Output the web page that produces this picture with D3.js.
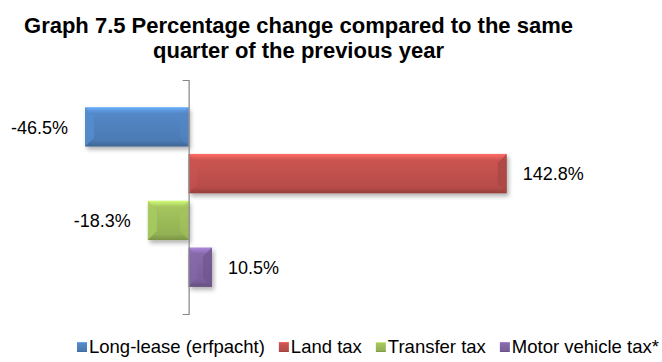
<!DOCTYPE html>
<html>
<head>
<meta charset="utf-8">
<script src="https://cdn.jsdelivr.net/npm/d3@7"></script>
<style>
  html, body { margin: 0; padding: 0; background: #ffffff; }
  svg { display: block; }
  text { font-family: "Liberation Sans", Arial, Helvetica, sans-serif; }
</style>
</head>
<body>
<div id="chart"></div>
<script>
// ---- data ----
const titleLines = ["Graph 7.5 Percentage change compared to the same", "quarter of the previous year"];
const categories = ["Long-lease (erfpacht)", "Land tax", "Transfer tax", "Motor vehicle tax*"];
const values = [-46.5, 142.8, -18.3, 10.5];
const valueLabels = ["-46.5%", "142.8%", "-18.3%", "10.5%"];
const colors = ["#4F81BD", "#C0504D", "#9BBB59", "#8064A2"];
const xDomain = [-60, 160];

// ---- layout ----
const W = 662, H = 362;
const svg = d3.select("#chart").append("svg").attr("width", W).attr("height", H);
const defs = svg.append("defs");

const x = d3.scaleLinear().domain(xDomain).range([55, 545]);
const y = d3.scaleBand().domain(categories).range([80, 314]).paddingInner(0.157).paddingOuter(0.58);

// shadow filter
const f = defs.append("filter").attr("id", "shadow").attr("x", "-20%").attr("y", "-30%").attr("width", "140%").attr("height", "170%");
f.append("feDropShadow").attr("dx", 2).attr("dy", 3).attr("stdDeviation", 2).attr("flood-color", "#000").attr("flood-opacity", 0.3);

// bevel gradients
colors.forEach((c, i) => {
  const g = defs.append("linearGradient").attr("id", "grad" + i).attr("x1", 0).attr("y1", 0).attr("x2", 0).attr("y2", 1);
  const base = d3.color(c);
  const stops = [
    [0, base.brighter(0.9)],
    [0.06, base.brighter(0.6)],
    [0.16, base.brighter(0.15)],
    [0.5, base],
    [0.85, base.darker(0.15)],
    [1, base.darker(0.7)]
  ];
  stops.forEach(([o, col]) => g.append("stop").attr("offset", o).attr("stop-color", col.formatHex()));
});

// title
svg.append("g").selectAll("text").data(titleLines).join("text")
  .attr("x", 298.5)
  .attr("y", (d, i) => 33 + i * 25)
  .attr("text-anchor", "middle")
  .attr("font-size", 22)
  .attr("font-weight", "bold")
  .attr("fill", "#000")
  .text(d => d);

// bars
const data = categories.map((c, i) => ({ cat: c, v: values[i], label: valueLabels[i], i }));
const bars = svg.append("g").attr("class", "bars");
const bg = bars.selectAll("g").data(data).join("g").attr("filter", "url(#shadow)");
bg.append("rect")
  .attr("x", d => Math.min(x(0), x(d.v)))
  .attr("y", d => y(d.cat))
  .attr("width", d => Math.abs(x(d.v) - x(0)))
  .attr("height", y.bandwidth())
  .attr("fill", d => `url(#grad${d.i})`);
// end bevel
bg.append("path")
  .attr("d", d => {
    const x1 = x(d.v), y0 = y(d.cat), y1 = y0 + y.bandwidth();
    const b = Math.min(9, Math.abs(x1 - x(0)) / 2);
    const s = d.v >= 0 ? -1 : 1;
    return `M${x1},${y0}L${x1 + s * b},${y0 + b}L${x1 + s * b},${y1 - b}L${x1},${y1}Z`;
  })
  .attr("fill", d => d.v >= 0 ? d3.color(colors[d.i]).darker(0.35).formatHex() : d3.color(colors[d.i]).brighter(0.25).formatHex())
  .attr("opacity", 0.8);
bg.append("path")
  .attr("d", d => {
    const x0 = x(0), y0 = y(d.cat), y1 = y0 + y.bandwidth();
    const b = Math.min(9, Math.abs(x(d.v) - x0) / 2);
    const s = d.v >= 0 ? 1 : -1;
    return `M${x0},${y0}L${x0 + s * b},${y0 + b}L${x0 + s * b},${y1 - b}L${x0},${y1}Z`;
  })
  .attr("fill", d => d3.color(colors[d.i]).brighter(0.15).formatHex())
  .attr("opacity", 0.5);

// axis at zero
const yAxis = d3.axisLeft(y).tickValues([]).tickSizeOuter(6);
const ax = svg.append("g").attr("transform", `translate(${x(0)},0)`).call(yAxis);
ax.select(".domain").attr("stroke", "#868686").attr("stroke-width", 1.2);

// value labels
svg.append("g").selectAll("text").data(data).join("text")
  .attr("x", d => d.v >= 0 ? x(d.v) + 16 : x(d.v) - 17)
  .attr("y", d => y(d.cat) + y.bandwidth() / 2 + 2)
  .attr("text-anchor", d => d.v >= 0 ? "start" : "end")
  .attr("dominant-baseline", "middle")
  .attr("font-size", 18)
  .attr("fill", "#000")
  .text(d => d.label);

// legend
const legend = svg.append("g");
const items = legend.selectAll("g").data(data).join("g");
items.append("rect").attr("width", 10).attr("height", 10).attr("y", -11)
  .attr("fill", d => `url(#grad${d.i})`);
items.append("text").attr("x", 12).attr("y", 0).attr("font-size", 18.5).attr("fill", "#000").text(d => d.cat);
let cx = 0;
items.each(function () {
  d3.select(this).attr("transform", `translate(${cx},0)`);
  cx += 12 + this.querySelector("text").getComputedTextLength() + 14;
});
legend.attr("transform", `translate(77,353)`);
</script>
</body>
</html>
